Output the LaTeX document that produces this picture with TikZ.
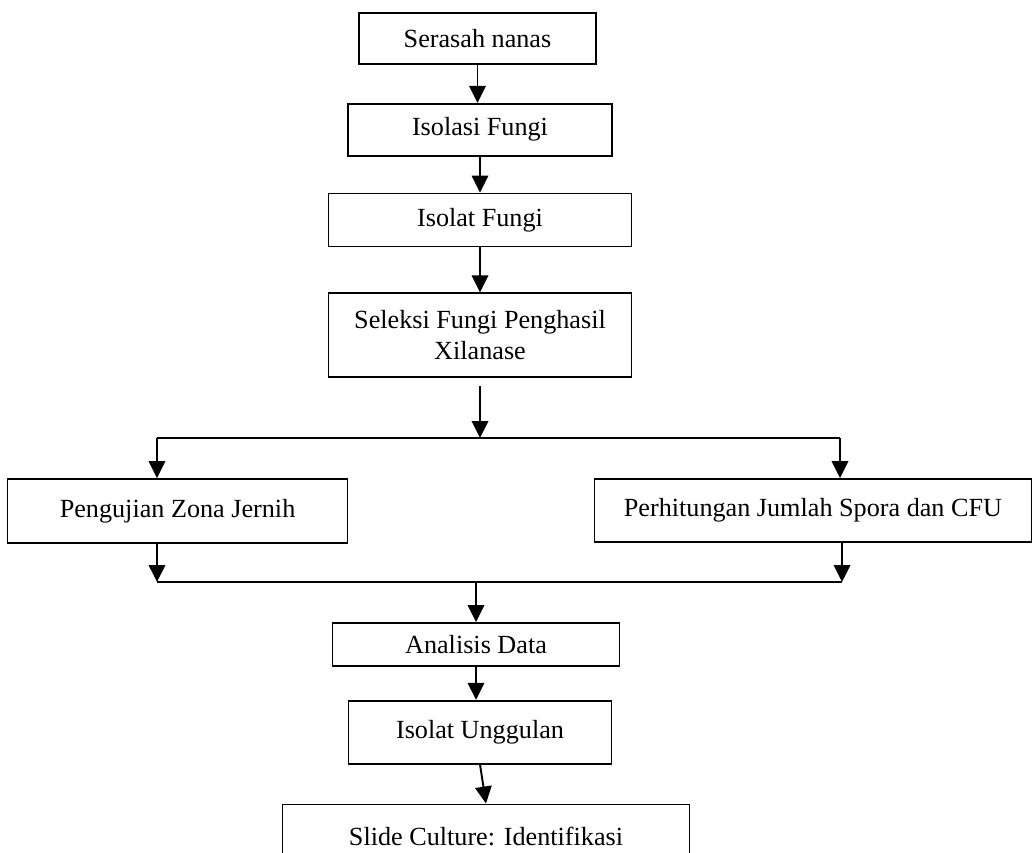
\documentclass[tikz,border=0pt]{standalone}
\usepackage{fontspec}
\setmainfont{Liberation Serif}
\usetikzlibrary{arrows.meta,positioning}

\begin{document}
\begin{tikzpicture}[
    x=0.02cm, y=-0.02cm,
    node distance=8mm,
    box/.style={
        rectangle, draw=black, line width=1pt, fill=white,
        font=\fontsize{14.9}{18}\selectfont, align=center, inner sep=2pt
    },
    arrow/.style={-{Triangle[length=3.4mm,width=3.3mm]}, line width=1.1pt, draw=black},
    link/.style={line width=1.1pt, draw=black}
]
\clip (0,0) rectangle (1033,852);

\node[box, minimum width=4.74cm, minimum height=1.02cm] (serasah) at (477.5,38.5) {Serasah nanas};
\node[box, minimum width=5.28cm, minimum height=1.04cm, below=7.6mm of serasah, xshift=0.05cm] (isolasi) {Isolasi Fungi};
\node[box, minimum width=6.06cm, minimum height=1.06cm, below=7.2mm of isolasi] (isolat) {Isolat Fungi};
\node[box, minimum width=6.06cm, minimum height=1.68cm, below=9.0mm of isolat] (seleksi) {Seleksi Fungi Penghasil\\Xilanase};

\node[box, minimum width=6.8cm, minimum height=1.28cm, below=20.0mm of seleksi, xshift=-6.05cm] (zona) {Pengujian Zona Jernih};
\node[box, minimum width=8.74cm, minimum height=1.26cm, below=20.0mm of seleksi, xshift=6.66cm] (spora) {Perhitungan Jumlah Spora dan CFU};

\node[box, minimum width=5.74cm, minimum height=0.86cm, below=48.8mm of seleksi, xshift=-0.08cm] (analisis) {Analisis Data};
\node[box, minimum width=5.26cm, minimum height=1.26cm, below=6.6mm of analisis, xshift=0.08cm] (unggulan) {Isolat Unggulan};
\node[box, minimum width=8.14cm, minimum height=1.28cm, below=7.8mm of unggulan, xshift=0.12cm] (slide) {Slide Culture: Identifikasi};

% branch and join points
\coordinate (forkL) at (157,438);
\coordinate (forkR) at (840,438);
\coordinate (joinL) at (157,582);
\coordinate (joinR) at (842,582);

\draw[arrow] (serasah.south) -- (serasah.south |- isolasi.north);
\draw[arrow] (isolasi.south) -- (isolasi.south |- isolat.north);
\draw[arrow] (isolat.south) -- (seleksi.north);
\draw[arrow] ([yshift=-1.6mm]seleksi.south) -- (seleksi.south |- forkL);
\draw[link] (forkL) -- (forkR);
\draw[arrow] (forkL) -- (forkL |- zona.north);
\draw[arrow] (forkR) -- (forkR |- spora.north);
\draw[arrow] (joinL |- zona.south) -- (joinL);
\draw[arrow] (joinR |- spora.south) -- (joinR);
\draw[link] (joinL) -- (joinR);
\draw[arrow] (analisis.north |- joinL) -- (analisis.north);
\draw[arrow] (analisis.south) -- (analisis.south |- unggulan.north);
\draw[arrow] (unggulan.south) -- (slide.north);

\end{tikzpicture}
\end{document}
